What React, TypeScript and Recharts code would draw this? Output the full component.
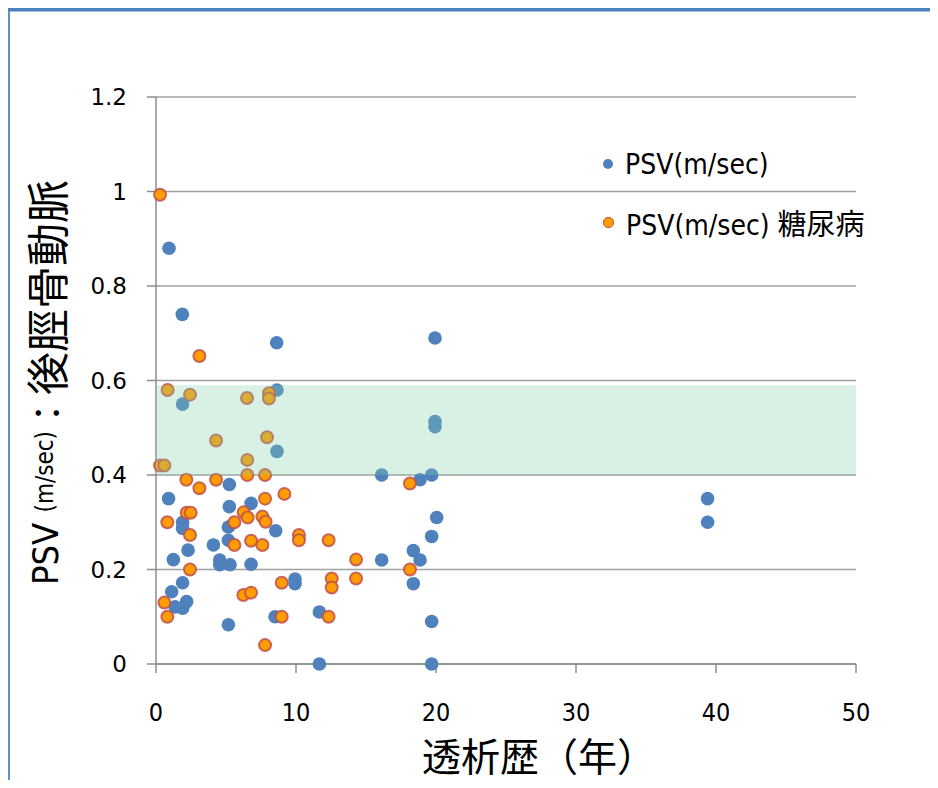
import React from 'react';
import { ScatterChart, Scatter, XAxis, YAxis, CartesianGrid, ReferenceArea, Legend, Label } from 'recharts';

// Series 1: PSV(m/sec)
const psvYears = [
  0.93, 1.88, 1.9, 8.62, 8.64, 8.64, 19.93, 19.93, 19.93, 16.12,
  19.69, 18.86, 20.05, 19.69, 18.38, 18.86, 16.12, 18.38, 19.69, 19.69,
  11.67, 11.67, 9.93, 9.93, 39.4, 39.4, 0.9, 5.24, 6.79, 5.24,
  1.9, 1.9, 5.17, 8.55, 5.17, 4.1, 2.29, 1.24, 4.55, 4.55,
  5.29, 6.79, 1.9, 1.12, 1.36, 2.19, 1.9, 5.17, 8.5,
];
const psvValues = [
  0.88, 0.74, 0.55, 0.68, 0.58, 0.45, 0.69, 0.513, 0.502, 0.4,
  0.4, 0.39, 0.31, 0.27, 0.24, 0.22, 0.22, 0.17, 0.09, 0,
  0, 0.11, 0.18, 0.17, 0.35, 0.3, 0.35, 0.38, 0.34, 0.333,
  0.3, 0.287, 0.29, 0.282, 0.262, 0.252, 0.241, 0.221, 0.22, 0.21,
  0.21, 0.211, 0.172, 0.153, 0.121, 0.132, 0.118, 0.083, 0.1,
];

// Series 2: PSV(m/sec) 糖尿病
const dmYears = [
  0.29, 3.1, 0.83, 2.43, 6.5, 8.07, 8.07, 4.29, 7.93, 6.52,
  0.29, 0.6, 6.52, 7.79, 2.17, 3.1, 4.29, 7.79, 9.17, 2.19,
  2.48, 0.81, 6.26, 6.55, 5.6, 7.6, 7.83, 2.43, 5.6, 6.79,
  7.6, 2.43, 8.98, 6.24, 6.79, 0.6, 0.81, 8.98, 7.79, 18.14,
  10.21, 10.21, 12.33, 14.29, 18.14, 12.55, 12.55, 14.29, 12.33,
];
const dmValues = [
  0.993, 0.652, 0.58, 0.57, 0.563, 0.573, 0.562, 0.473, 0.48, 0.432,
  0.42, 0.42, 0.4, 0.4, 0.39, 0.372, 0.39, 0.35, 0.36, 0.32,
  0.32, 0.3, 0.321, 0.31, 0.3, 0.312, 0.301, 0.273, 0.252, 0.261,
  0.252, 0.2, 0.172, 0.146, 0.151, 0.13, 0.1, 0.1, 0.04, 0.382,
  0.273, 0.262, 0.262, 0.221, 0.2, 0.181, 0.162, 0.181, 0.1,
];

const xTicks = [0, 10, 20, 30, 40, 50];
const yTicks = [0, 0.2, 0.4, 0.6, 0.8, 1, 1.2];
const bandRange = [0.4, 0.59];

const seriesNames = ['PSV(m/sec)', 'PSV(m/sec)'];
const dmSuffix = '糖尿病';

const psvData = psvYears.map((x, i) => ({ x, y: psvValues[i] }));
const dmData = dmYears.map((x, i) => ({ x, y: dmValues[i] }));

const BLUE = '#4f81bd';
const ORANGE = '#ff9c00';
const RED = '#c0504d';
const NARROW = "'DejaVu Sans Condensed', 'Noto Sans CJK JP', sans-serif";
const CJK = "'Noto Sans CJK JP', sans-serif";

const BlueDot = (p: any) => <circle cx={p.cx} cy={p.cy} r={6.8} fill={BLUE} />;
const OrangeDot = (p: any) => (
  <circle cx={p.cx} cy={p.cy} r={6} fill={ORANGE} stroke={RED} strokeWidth={2} strokeOpacity={0.85} />
);

const LegendContent = () => (
  <div style={{ fontFamily: NARROW, fontSize: 28, color: '#000' }}>
    <div style={{ display: 'flex', alignItems: 'center', height: 58 }}>
      <span style={{ width: 10, height: 10, borderRadius: 5, background: BLUE, marginLeft: 1, marginRight: 12 }} />
      <span>{seriesNames[0]}</span>
    </div>
    <div style={{ display: 'flex', alignItems: 'center', height: 58 }}>
      <span style={{ width: 9, height: 9, borderRadius: 5, background: ORANGE, border: `1px solid ${RED}`, marginLeft: 1, marginRight: 12 }} />
      <span>
        {seriesNames[1]} <span style={{ fontFamily: CJK, fontSize: 29 }}>{dmSuffix}</span>
      </span>
    </div>
  </div>
);

const YLabel = (props: any) => {
  const vb = props.viewBox || { x: 0, y: 97, width: 156, height: 567 };
  const cx = 45;
  const cy = vb.y + vb.height / 2 + 2;
  return (
    <text
      x={cx}
      y={cy}
      transform={`rotate(-90 ${cx} ${cy})`}
      textAnchor="middle"
      dominantBaseline="central"
      fill="#000"
    >
      <tspan fontFamily={NARROW} fontSize={36}>PSV </tspan>
      <tspan fontFamily={NARROW} fontSize={24}>(m/sec)</tspan>
      <tspan fontFamily={CJK} fontSize={36}>：</tspan>
      <tspan fontFamily={CJK} fontSize={43}>後脛骨動脈</tspan>
    </text>
  );
};

const XLabel = (props: any) => {
  const vb = props.viewBox || { x: 156, y: 664, width: 700, height: 60 };
  const cx = vb.x + vb.width / 2 + 33;
  return (
    <text x={cx} y={771} textAnchor="middle" fontFamily={CJK} fontSize={39} fill="#000">
      透析歴（年）
    </text>
  );
};

export default function App() {
  return (
    <div style={{ position: 'relative', width: 938, height: 788, margin: -8, background: '#fff', overflow: 'hidden' }}>
      {/* frame */}
      <div style={{ position: 'absolute', left: 0, top: 8, width: 938, height: 3, background: BLUE }} />
      <div style={{ position: 'absolute', left: 10, top: 11, width: 928, height: 1, background: '#9dbbe0' }} />
      <div style={{ position: 'absolute', left: 3, top: 8, width: 3, height: 780, background: BLUE }} />
      <div style={{ position: 'absolute', left: 8, top: 11, width: 2, height: 777, background: '#5f8fc8' }} />
      <div style={{ position: 'absolute', left: 0, top: 0 }}>
        <ScatterChart width={938} height={788} margin={{ top: 97, right: 82, bottom: 64, left: 0 }}>
          <CartesianGrid vertical={false} stroke="#a0a0a0" strokeWidth={1.5} />
          <XAxis
            type="number"
            dataKey="x"
            domain={[0, 50]}
            ticks={xTicks}
            height={60}
            tickSize={9}
            tickMargin={30}
            axisLine={{ stroke: '#8c8c8c', strokeWidth: 1.5 }}
            tickLine={{ stroke: '#8c8c8c', strokeWidth: 1.5 }}
            tick={{ fontFamily: NARROW, fontSize: 25, fill: '#000' }}
            label={<Label content={XLabel} />}
          />
          <YAxis
            type="number"
            dataKey="y"
            domain={[0, 1.2]}
            ticks={yTicks}
            width={156}
            tickSize={9}
            tickMargin={20}
            axisLine={{ stroke: '#8c8c8c', strokeWidth: 1.5 }}
            tickLine={{ stroke: '#8c8c8c', strokeWidth: 1.5 }}
            tick={{ fontFamily: "'DejaVu Sans', sans-serif", fontSize: 23, fill: '#000' }}
            label={<Label content={YLabel} />}
          />
          <Scatter name={seriesNames[0]} data={psvData} shape={BlueDot} isAnimationActive={false} />
          <Scatter name={seriesNames[1]} data={dmData} shape={OrangeDot} isAnimationActive={false} />
          <ReferenceArea
            x1={0}
            x2={50}
            y1={bandRange[0]}
            y2={bandRange[1]}
            fill="#80d0a8"
            fillOpacity={0.3}
            stroke="none"
            zIndex={700}
          />
          <Legend
            layout="vertical"
            align="center"
            verticalAlign="middle"
            content={LegendContent}
            wrapperStyle={{ position: 'absolute', top: 135, left: 602, width: 320 }}
          />
        </ScatterChart>
      </div>
    </div>
  );
}
